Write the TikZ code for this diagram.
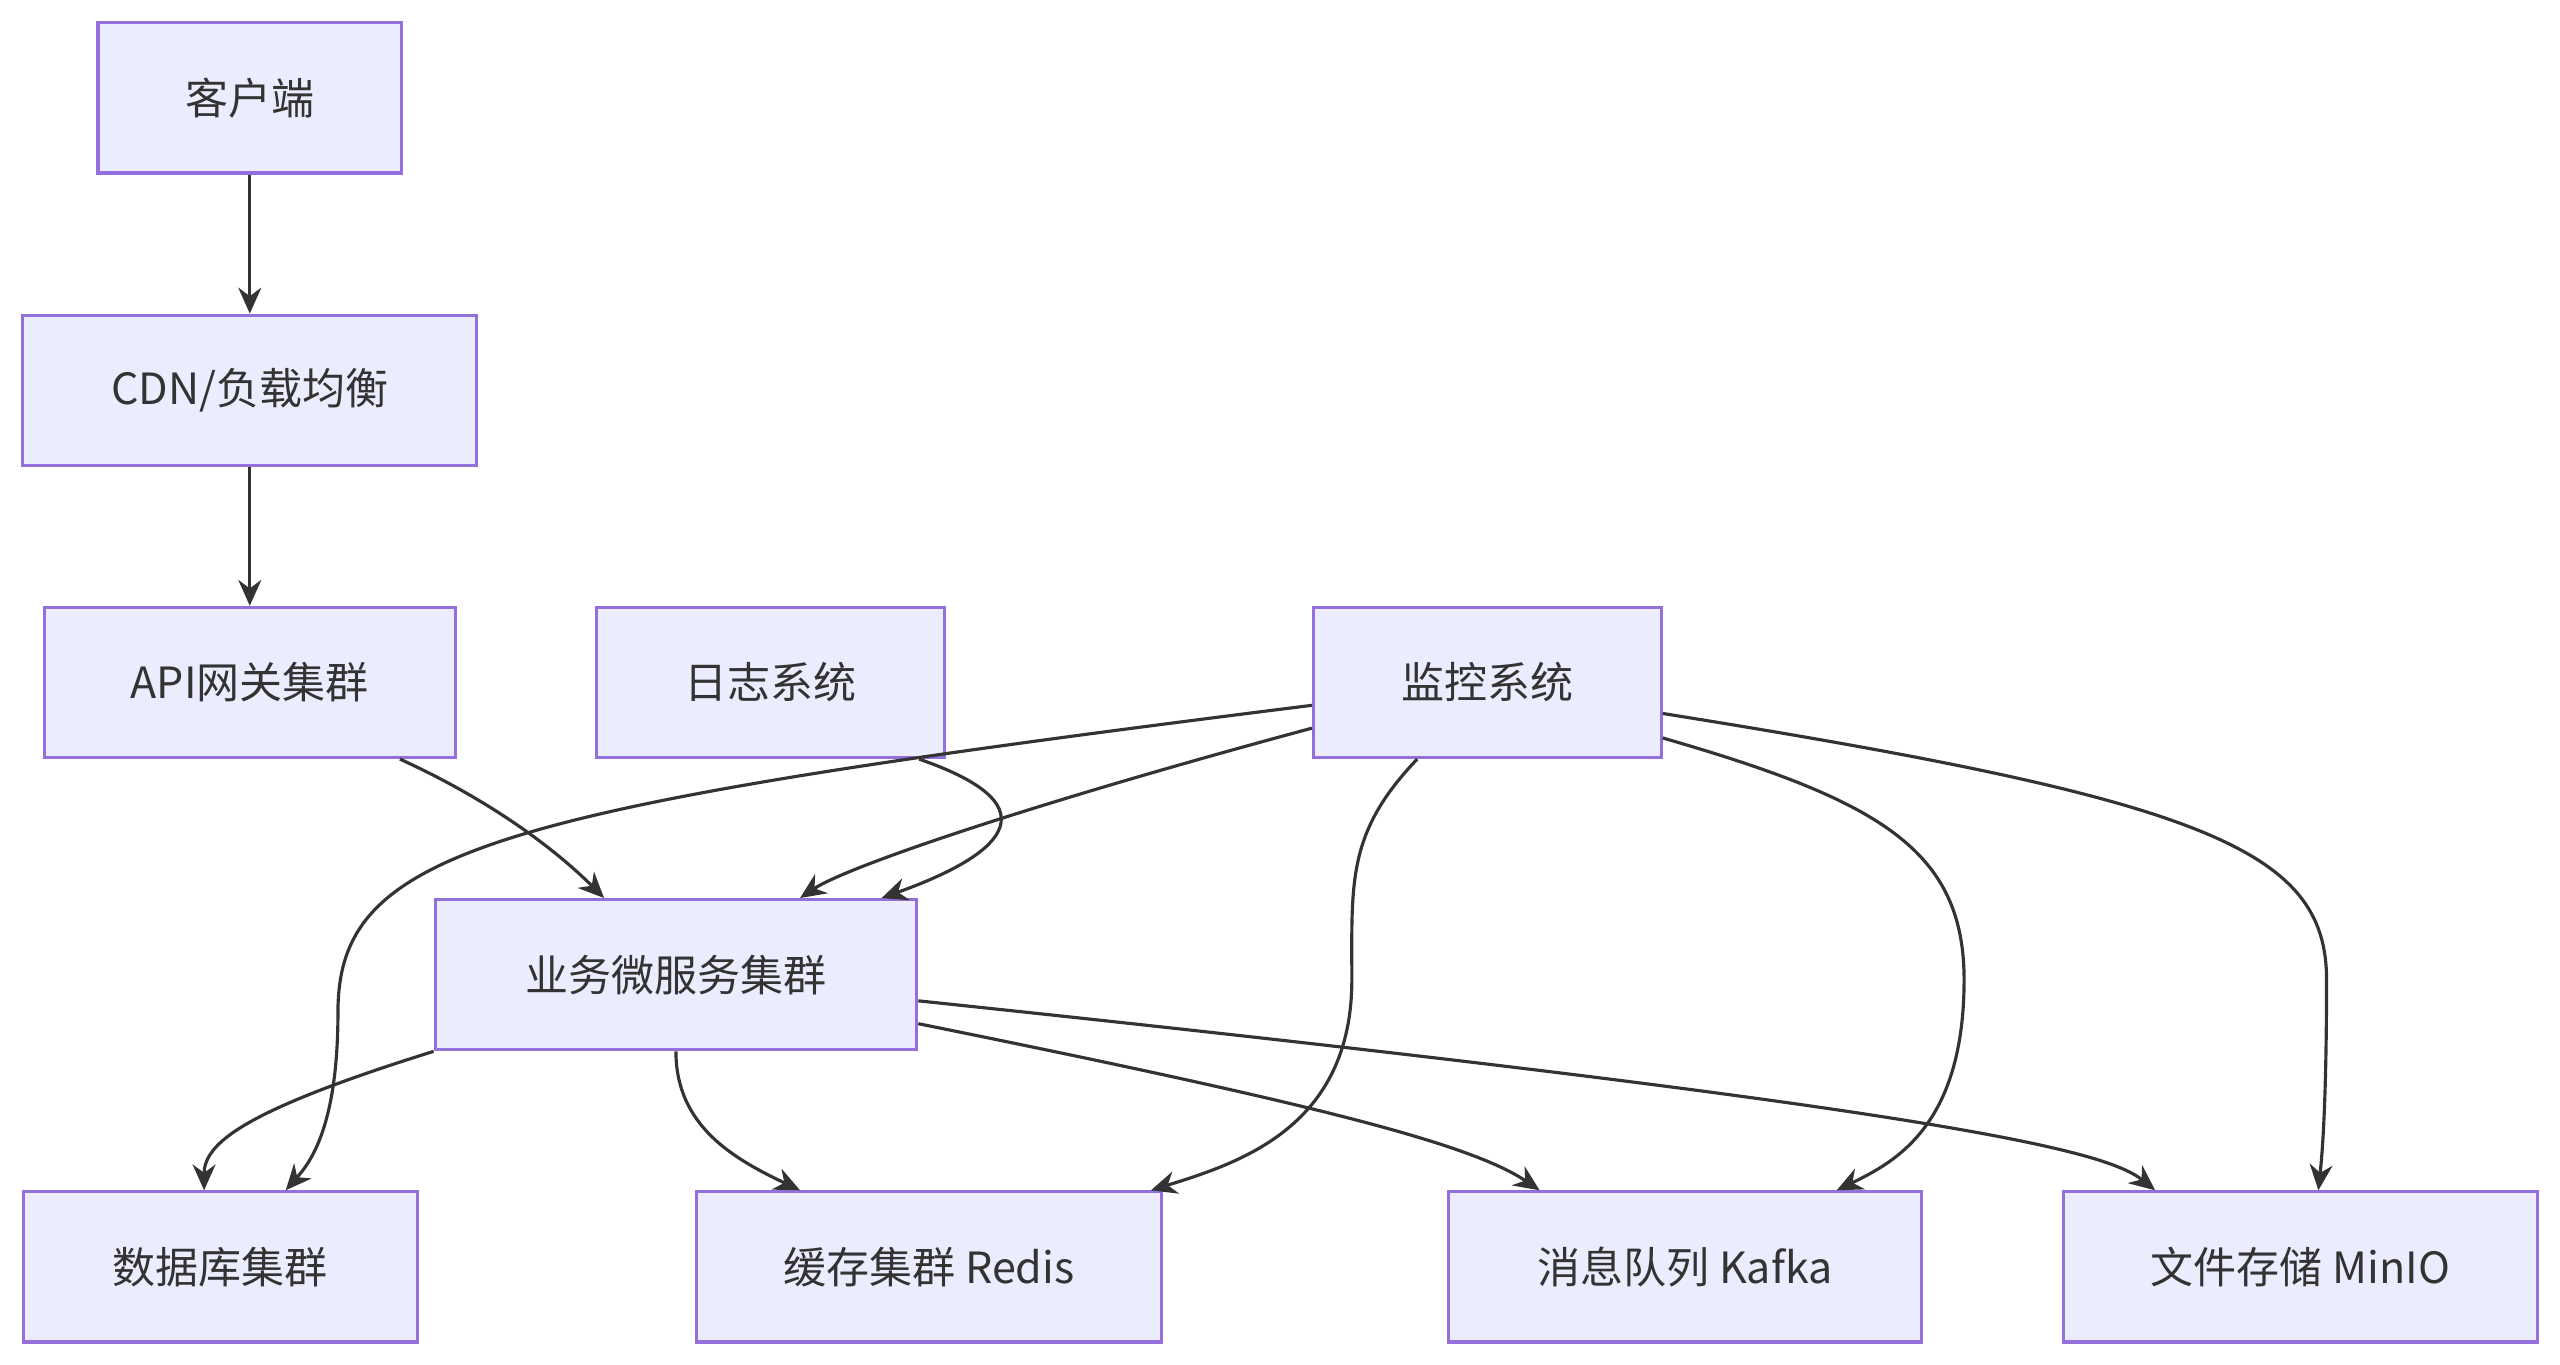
\documentclass[tikz,border=0pt]{standalone}
\usepackage{fontspec}
\setmainfont{Noto Sans CJK SC}
\usetikzlibrary{arrows.meta}
\definecolor{boxfill}{HTML}{ECECFF}
\definecolor{boxline}{HTML}{9370DB}
\definecolor{edge}{HTML}{333333}
\tikzset{
  box/.style={draw=boxline, fill=boxfill, line width=1.1pt, minimum height=1.84cm,
    inner sep=0pt, font=\fontsize{15}{18}\selectfont, text=edge},
  arr/.style={draw=edge, line width=1.1pt, -{Stealth[length=9pt,width=8pt]}}
}
\begin{document}
\begin{tikzpicture}[x=0.02cm,y=-0.02cm]
  \useasboundingbox (0,0) rectangle (1568,836);
  % top column
  \node [box, minimum width=3.72cm] (client) at (153,60) {客户端};
  \node [box, minimum width=5.56cm] (cdn) at (153,239) {CDN/负载均衡};
  \node [box, minimum width=5.04cm] (api) at (153,418) {API网关集群};
  \node [box, minimum width=4.26cm] (log) at (472,418) {日志系统};
  \node [box, minimum width=4.26cm] (mon) at (911,418) {监控系统};
  \node [box, minimum width=5.90cm] (svc) at (414,597) {业务微服务集群};
  % storage row
  \node [box, minimum width=4.82cm] (db) at (135,776) {数据库集群};
  \node [box, minimum width=5.70cm] (redis) at (569,776) {缓存集群 Redis};
  \node [box, minimum width=5.80cm] (kafka) at (1032,776) {消息队列 Kafka};
  \node [box, minimum width=5.80cm] (minio) at (1409,776) {文件存储 MinIO};
  % connectors
  \draw [arr] (client) -- (cdn);
  \draw [arr] (cdn) -- (api);
  \draw [arr] ([xshift=1.84cm]api.south) .. controls (300,490) and (340,520) .. ([xshift=-0.88cm]svc.north);
  \draw [arr] ([xshift=1.82cm]log.south) .. controls (650,495) and (610,525) .. ([xshift=2.52cm]svc.north);
  \draw [arr] ([yshift=-0.28cm]mon.west) .. controls (300,495) and (207,520) .. (207,620)
    .. controls (207,690) and (190,712) .. ([xshift=0.8cm]db.north);
  \draw [arr] ([yshift=-0.56cm]mon.west) .. controls (640,490) and (520,530) .. ([xshift=1.52cm]svc.north);
  \draw [arr] ([xshift=-0.86cm]mon.south) .. controls (825,510) and (828,540) .. (828,600)
    .. controls (828,690) and (760,712) .. ([xshift=2.72cm]redis.north);
  \draw [arr] ([yshift=-0.68cm]mon.east) .. controls (1150,490) and (1203,520) .. (1203,600)
    .. controls (1203,690) and (1160,712) .. ([xshift=1.86cm]kafka.north);
  \draw [arr] ([yshift=-0.38cm]mon.east) .. controls (1350,490) and (1425,520) .. (1425,600)
    .. controls (1425,680) and (1422,710) .. ([xshift=0.22cm]minio.north);
  \draw [arr] (svc.south west) .. controls (150,680) and (125,700) .. ([xshift=-0.2cm]db.north);
  \draw [arr] (svc.south) .. controls (414,690) and (450,710) .. ([xshift=-1.58cm]redis.north);
  \draw [arr] ([yshift=-0.6cm]svc.east) .. controls (800,675) and (900,700) .. ([xshift=-1.78cm]kafka.north);
  \draw [arr] ([yshift=-0.32cm]svc.east) .. controls (1200,680) and (1290,705) .. ([xshift=-1.78cm]minio.north);
\end{tikzpicture}
\end{document}
